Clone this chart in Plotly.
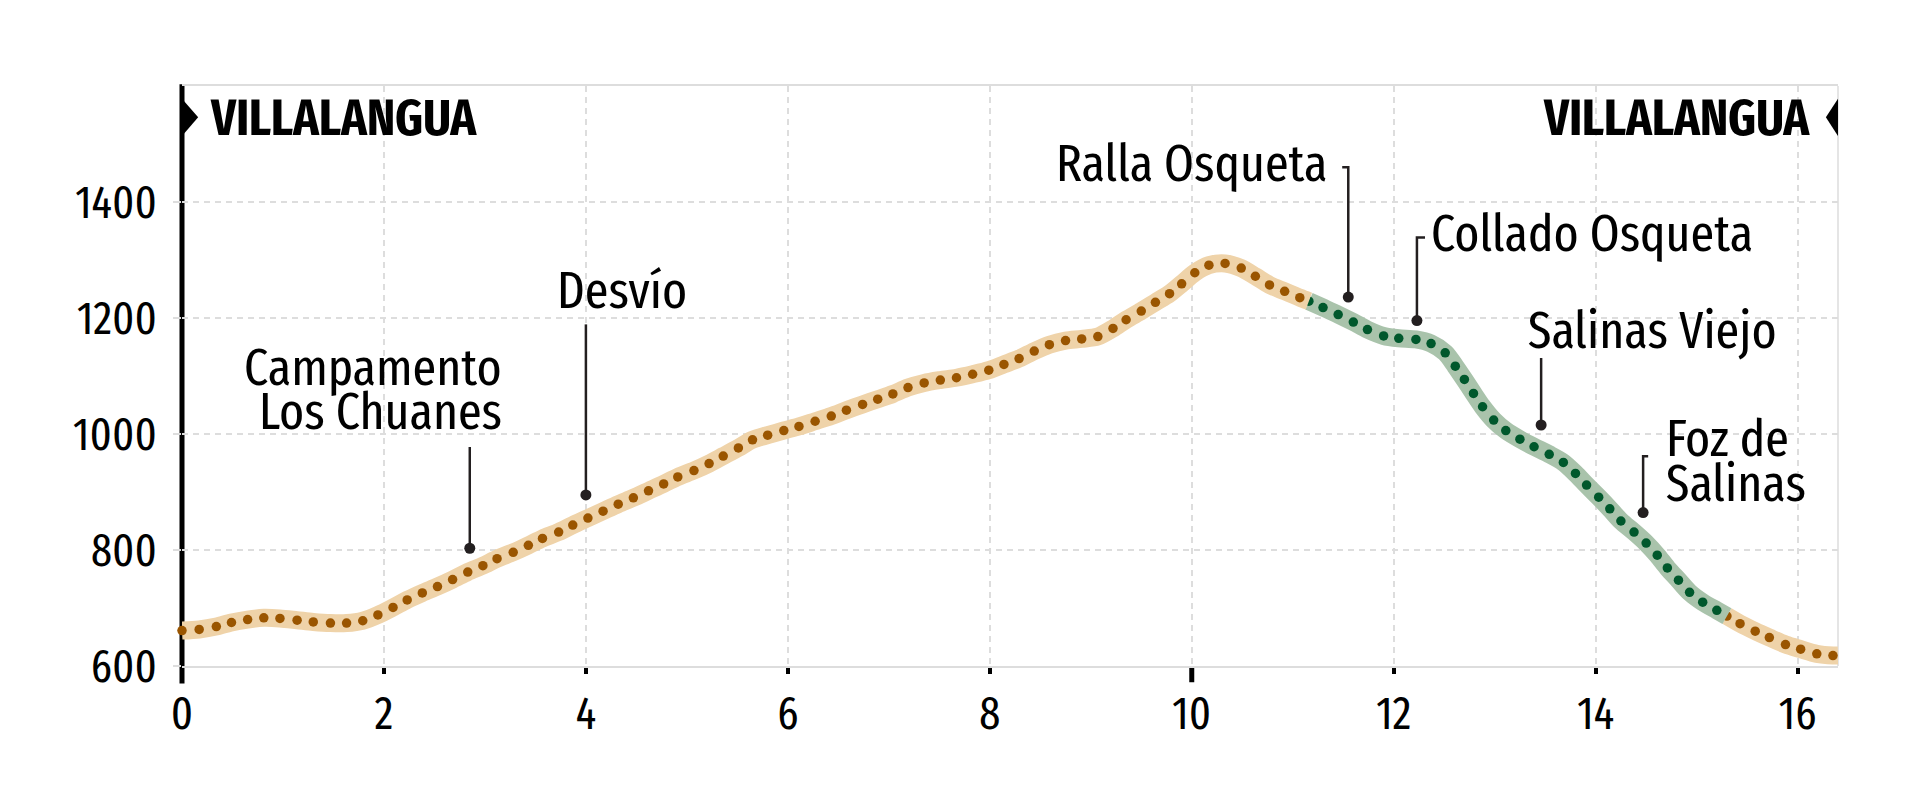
import plotly.graph_objects as go

# --- profile (distance km, altitude m) ---
km_start = [0.00, 0.17, 0.34, 0.49, 0.65, 0.81, 0.97, 1.14, 1.30, 1.47, 1.63, 1.79, 1.94, 2.09, 2.23, 2.38,
            2.53, 2.68, 2.83, 2.98, 3.12, 3.28, 3.43, 3.57, 3.73, 3.87, 4.02, 4.17, 4.32, 4.47, 4.62, 4.77,
            4.91, 5.07, 5.22, 5.36, 5.51, 5.65, 5.80, 5.96, 6.11, 6.27, 6.43, 6.58, 6.74, 6.89, 7.04, 7.19,
            7.35, 7.51, 7.67, 7.83, 7.99, 8.14, 8.29, 8.44, 8.59, 8.75, 8.91, 9.07, 9.22, 9.35, 9.50, 9.64,
            9.78, 9.90, 10.03, 10.17, 10.33, 10.49, 10.63, 10.77, 10.92, 11.07, 11.16]
alt_start = [661, 663, 668, 675, 680, 683, 682, 679, 676, 674, 674, 678, 688, 701, 714, 726,
             737, 749, 762, 773, 785, 796, 808, 820, 831, 843, 855, 867, 879, 890, 902, 914,
             926, 937, 949, 962, 976, 990, 998, 1006, 1013, 1022, 1031, 1041, 1051, 1060, 1069, 1080,
             1088, 1093, 1097, 1103, 1110, 1120, 1130, 1143, 1154, 1161, 1164, 1168, 1182, 1197, 1212, 1227,
             1242, 1259, 1278, 1291, 1294, 1286, 1272, 1257, 1246, 1235, 1229]
km_middle = [11.16, 11.30, 11.45, 11.60, 11.74, 11.90, 12.05, 12.22, 12.37, 12.51, 12.61, 12.70, 12.79, 12.88,
             12.99, 13.11, 13.25, 13.39, 13.54, 13.68, 13.80, 13.91, 14.03, 14.14, 14.25, 14.38, 14.50, 14.61,
             14.71, 14.82, 14.93, 15.06, 15.20, 15.30]
alt_middle = [1229, 1218, 1206, 1193, 1180, 1169, 1165, 1163, 1156, 1140, 1117, 1094, 1070, 1047,
              1024, 1006, 991, 978, 965, 951, 932, 912, 891, 871, 850, 831, 812, 791,
              769, 748, 727, 710, 696, 686]
km_end = [15.30, 15.43, 15.58, 15.72, 15.88, 16.03, 16.19, 16.35]
alt_end = [686, 673, 660, 649, 637, 629, 621, 618]
km_last, alt_last = 16.4, 618

# --- waypoints ---
wp_km = [2.85, 4.00, 11.55, 12.23, 13.46, 14.47]
wp_alt = [803, 895, 1236, 1195.5, 1015.5, 864.5]
lead_top = [977.6, 1189, 1460, 1339, 1131, 961.5]
hook_km = [None, None, 11.49, 12.31, None, 14.52]

label_text = ["Campamento", "Los Chuanes", "Desvío", "Ralla Osqueta", "Collado Osqueta", "Salinas Viejo", "Foz de", "Salinas"]
label_km = [3.19, 3.19, 3.69, 11.37, 12.35, 13.31, 14.68, 14.68]
label_alt = [1115, 1038, 1248, 1467, 1345, 1179, 992, 914]
label_side = ["right", "right", "left", "right", "left", "left", "left", "left"]

x_ticks = [0, 2, 4, 6, 8, 10, 12, 14, 16]
y_ticks = [600, 800, 1000, 1200, 1400]

FONT = "Fira Sans Extra Condensed, Liberation Sans Narrow, Fira Sans Condensed, sans-serif"
ORANGE_BAND, ORANGE_DOT = "#EFD3A9", "#9A5500"
GREEN_BAND, GREEN_DOT = "#A9C3AB", "#00582C"
BAND, DOT = 18, 9.5
INK = "#231F20"
GRID = "#DDDDDD"


def band(x, y, c):
    return go.Scatter(x=x, y=y, mode="lines", hoverinfo="skip",
                      line=dict(color=c, width=BAND, shape="spline", smoothing=0.8))


def dots(x, y, c):
    return go.Scatter(x=x, y=y, mode="markers", hoverinfo="skip", cliponaxis=False, marker=dict(color=c, size=DOT))


fig = go.Figure()
# painted so that the two dots on the colour changes are cut by the neighbouring band
fig.add_trace(band(km_end + [km_last], alt_end + [alt_last], ORANGE_BAND))
fig.add_trace(dots(km_end[:1], alt_end[:1], ORANGE_DOT))
fig.add_trace(band(km_middle, alt_middle, GREEN_BAND))
fig.add_trace(dots(km_middle[:1], alt_middle[:1], GREEN_DOT))
fig.add_trace(band(km_start, alt_start, ORANGE_BAND))
fig.add_trace(dots(km_start[:-1], alt_start[:-1], ORANGE_DOT))
fig.add_trace(dots(km_middle[1:-1], alt_middle[1:-1], GREEN_DOT))
fig.add_trace(dots(km_end[1:], alt_end[1:], ORANGE_DOT))

for k, a, t, h in zip(wp_km, wp_alt, lead_top, hook_km):
    xs, ys = [k, k], [a, t]
    if h is not None:
        xs.append(h)
        ys.append(t)
    fig.add_trace(go.Scatter(x=xs, y=ys, mode="lines", hoverinfo="skip", line=dict(color=INK, width=2.5)))
fig.add_trace(go.Scatter(x=wp_km, y=wp_alt, mode="markers", hoverinfo="skip", marker=dict(color=INK, size=11)))

annotations = []
for t, k, a, s in zip(label_text, label_km, label_alt, label_side):
    annotations.append(dict(text=t, x=k, y=a, xanchor=s, yanchor="middle", showarrow=False,
                            font=dict(family=FONT, size=52, color="#000")))
annotations.append(dict(text="<b>VILLALANGUA</b>", x=0.26, y=1544, xanchor="left", yanchor="middle", showarrow=False,
                        font=dict(family=FONT, size=51.5, color="#000")))
annotations.append(dict(text="<b>VILLALANGUA</b>", x=16.14, y=1544, xanchor="right", yanchor="middle", showarrow=False,
                        font=dict(family=FONT, size=51.5, color="#000")))

shapes = [
    dict(type="line", xref="paper", yref="paper", x0=0, x1=0, y0=-0.03, y1=1.003,
         line=dict(color="#000", width=5), layer="below"),
    dict(type="line", xref="paper", yref="paper", x0=1, x1=1, y0=0, y1=1,
         line=dict(color=GRID, width=1.5), layer="below"),
    dict(type="line", xref="paper", yref="paper", x0=10 / 16.4, x1=10 / 16.4, y0=0, y1=-0.028,
         line=dict(color="#000", width=5), layer="below"),
    dict(type="path", path="M 0 1578 L 0.16 1546 L 0 1514 Z", fillcolor="#000", line=dict(width=0)),
    dict(type="path", path="M 16.4 1578 L 16.28 1546 L 16.4 1514 Z", fillcolor="#000", line=dict(width=0)),
]

fig.update_layout(
    width=1913, height=792, showlegend=False, paper_bgcolor="#fff", plot_bgcolor="#fff",
    margin=dict(l=174.4, r=83, t=77.7, b=134.3),
    annotations=annotations, shapes=shapes,
    font=dict(family=FONT, size=46, color="#000"),
    xaxis=dict(range=[0, 16.4], tickvals=x_ticks, ticks="outside", ticklen=6, tickwidth=4, tickcolor="#000",
               showline=True, mirror=True, linecolor=GRID, linewidth=1.5, layer="below traces",
               showgrid=True, gridcolor=GRID, griddash="6px,5px", gridwidth=1.5, zeroline=False,
               ticklabelstandoff=0),
    yaxis=dict(range=[600, 1600], tickvals=y_ticks, ticks="outside", ticklen=8, tickwidth=1.5, tickcolor=GRID,
               showline=False, layer="below traces",
               showgrid=True, gridcolor=GRID, griddash="6px,5px", gridwidth=1.5, zeroline=False,
               ticklabelstandoff=7),
)
fig.write_html("out.html")
